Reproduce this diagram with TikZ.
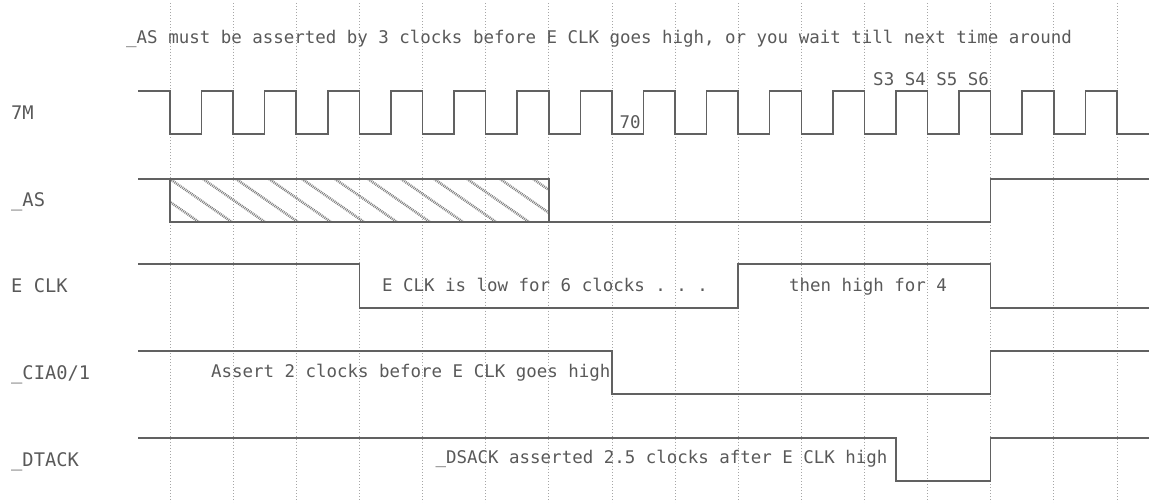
\documentclass[tikz,border=0pt]{standalone}
\usepackage{fontspec}
\setmonofont{DejaVu Sans Mono}

\tikzset{
    signal/.style={black!62, line width=1.3pt, line join=miter},
    gridline/.style={black!35, line width=0.6pt, dotted},
    hatchline/.style={black!50, line width=2.2pt, dash pattern=on 0.8pt off 0.8pt},
    note/.style={text=black!65, font=\ttfamily\fontsize{14.9}{16}\selectfont, inner sep=0pt, anchor=base},
    siglabel/.style={text=black!65, font=\ttfamily\fontsize{16}{18}\selectfont, inner sep=0pt, anchor=base west},
}

\begin{document}
\begin{tikzpicture}[x=1.8939cm, y=-0.03cm] % x in 7M clocks, y in pixels from the top
    \useasboundingbox (-2.6929,0) rectangle (15.888,503);
    \pgfmathsetmacro{\labx}{-2.519}  % left edge of the signal names

    % dotted grid, one line per 7M clock
    \foreach \k in {0,...,15}
        \draw[gridline] (\k,3) -- (\k,503);

    % 7M clock
    \draw[signal] (-0.5,91) -- (0,91) -- (0,134)
        foreach \k in {0,...,14} { -- ({\k+0.5},134) -- ({\k+0.5},91) -- ({\k+1},91) -- ({\k+1},134) }
        -- (15.5,134);

    % _AS with the hatched window
    \begin{scope}
        \clip (0,179) rectangle (6,222);
        \foreach \s in {-2,...,12}
            \draw[hatchline] ({\s*0.523},179) -- ({\s*0.523+0.98},222);
    \end{scope}
    \draw[signal] (-0.5,179) -- (6,179) -- (6,222);
    \draw[signal] (0,179) -- (0,222) -- (13,222) -- (13,179) -- (15.5,179);

    % E CLK
    \draw[signal] (-0.5,264) -- (3,264) -- (3,308) -- (9,308) -- (9,264) -- (13,264) -- (13,308) -- (15.5,308);

    % _CIA0/1
    \draw[signal] (-0.5,351) -- (7,351) -- (7,394) -- (13,394) -- (13,351) -- (15.5,351);

    % _DTACK
    \draw[signal] (-0.5,438) -- (11.5,438) -- (11.5,481) -- (13,481) -- (13,438) -- (15.5,438);

    % signal names
    \node[siglabel] (lab7m) at (\labx,120) {7M};
    \node[siglabel] (labas) at (\labx,207) {\_AS};
    \node[siglabel] (labeclk) at (\labx,293) {E CLK};
    \node[siglabel] (labcia) at (\labx,380) {\_CIA0/1};
    \node[siglabel] (labdtack) at (\labx,467) {\_DTACK};

    % notes
    \node[note, anchor=base west] (title) at (-0.697,44) {\_AS must be asserted by 3 clocks before E CLK goes high, or you wait till next time around};
    \node[note, anchor=base west] (states) at (11.136,86) {S3 S4 S5 S6};
    \node[note] (seventy) at (7.29,129) {70};
    \node[note] (elow) at (5.94,292) {E CLK is low for 6 clocks . . .};
    \node[note] (ehigh) at (11.057,292) {then high for 4};
    \node[note, anchor=base east] (ciano) at (6.98,378) {Assert 2 clocks before E CLK goes high};
    \node[note, anchor=base east] (dsack) at (11.37,464) {\_DSACK asserted 2.5 clocks after E CLK high};
\end{tikzpicture}
\end{document}
